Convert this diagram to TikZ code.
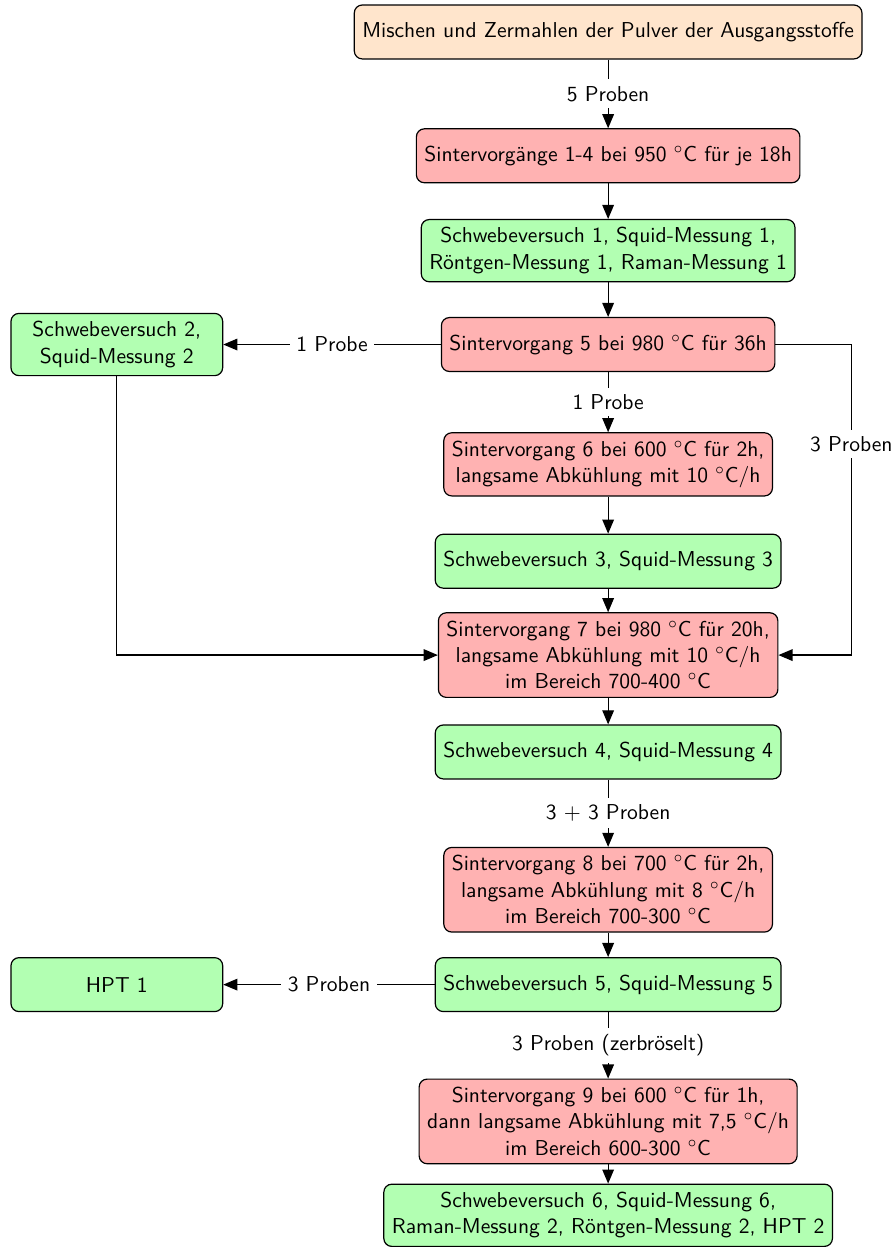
\documentclass[tikz,border=0pt]{standalone}
\usepackage{fontspec}
\usepackage{amsmath}
\usepackage{tikz}
\usetikzlibrary{arrows,positioning}
\renewcommand{\familydefault}{\sfdefault}

\begin{document}
\begin{tikzpicture}[->,>=triangle 45,semithick,
                    font=\sffamily\fontsize{10.8}{13.2}\selectfont,
                    box/.style={draw,rounded corners,align=center,minimum height=27pt,inner sep=4pt},
                    start/.style={box,fill=orange!20},
                    sinter/.style={box,fill=red!30},
                    mess/.style={box,fill=green!30},
                    seite/.style={mess,minimum width=106pt},
                    lbl/.style={fill=white}]

  \node[start]  (M)                                          {Mischen und Zermahlen der Pulver der Ausgangsstoffe};
  \node[sinter] (S14) [below of=M,  node distance=62pt]     {Sintervorgänge 1-4 bei 950 $^\circ$C für je 18h};
  \node[mess]   (SV1) [below of=S14, node distance=47.5pt]  {Schwebeversuch 1, Squid-Messung 1,\\Röntgen-Messung 1, Raman-Messung 1};
  \node[sinter] (S5)  [below of=SV1, node distance=47pt]    {Sintervorgang 5 bei 980 $^\circ$C für 36h};
  \node[seite]  (SV2) [left of=S5,   node distance=246pt]   {Schwebeversuch 2,\\Squid-Messung 2};
  \node[sinter] (S6)  [below of=S5,  node distance=60pt]    {Sintervorgang 6 bei 600 $^\circ$C für 2h,\\langsame Abkühlung mit 10 $^\circ$C/h};
  \node[mess]   (SV3) [below of=S6,  node distance=48.5pt]  {Schwebeversuch 3, Squid-Messung 3};
  \node[sinter] (S7)  [below of=SV3, node distance=47pt]    {Sintervorgang 7 bei 980 $^\circ$C für 20h,\\langsame Abkühlung mit 10 $^\circ$C/h\\im Bereich 700-400 $^\circ$C};
  \node[mess]   (SV4) [below of=S7,  node distance=48.5pt]  {Schwebeversuch 4, Squid-Messung 4};
  \node[sinter] (S8)  [below of=SV4, node distance=69pt]    {Sintervorgang 8 bei 700 $^\circ$C für 2h,\\langsame Abkühlung mit 8 $^\circ$C/h\\im Bereich 700-300 $^\circ$C};
  \node[mess]   (SV5) [below of=S8,  node distance=47.5pt]  {Schwebeversuch 5, Squid-Messung 5};
  \node[seite]  (HPT) [left of=SV5,  node distance=246pt]   {HPT 1};
  \node[sinter] (S9)  [below of=SV5, node distance=68.5pt]  {Sintervorgang 9 bei 600 $^\circ$C für 1h,\\dann langsame Abkühlung mit 7,5 $^\circ$C/h\\im Bereich 600-300 $^\circ$C};
  \node[mess]   (SV6) [below of=S9,  node distance=47pt]    {Schwebeversuch 6, Squid-Messung 6,\\Raman-Messung 2, Röntgen-Messung 2, HPT 2};

%  bounding box like the original
  \useasboundingbox ([xshift=-304.5pt,yshift=16pt]M.center) rectangle ([xshift=143.5pt,yshift=-607.5pt]M.center);

  \path (M)   edge node[lbl] {5 Proben} (S14)
        (S14) edge (SV1)
        (SV1) edge (S5)
        (S5)  edge node[lbl] {1 Probe} (SV2)
              edge node[lbl] {1 Probe} (S6)
        (S6)  edge (SV3)
        (SV3) edge (S7)
        (S7)  edge (SV4)
        (SV4) edge node[lbl] {3 $+$ 3 Proben} (S8)
        (S8)  edge (SV5)
        (SV5) edge node[lbl] {3 Proben} (HPT)
              edge node[lbl] {3 Proben (zerbröselt)} (S9)
        (S9)  edge (SV6);

  \draw (S5.east) -- ++(38pt,0) |- node[lbl,pos=0.16] {3 Proben} (S7.east);
  \draw (SV2.south) |- (S7.west);
\end{tikzpicture}
\end{document}
